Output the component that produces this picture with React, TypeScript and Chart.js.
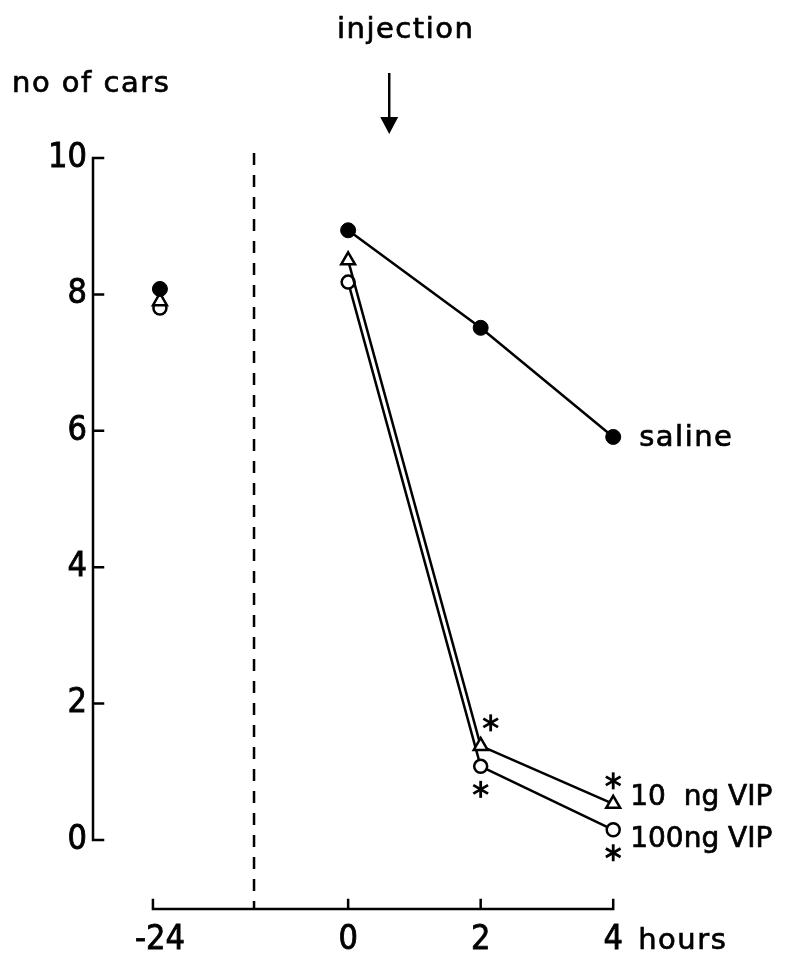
import React, { useEffect, useRef } from 'react';
import { Chart, registerables } from 'chart.js';

Chart.register(...registerables);

// ---- data ----
const hours = [-24, 0, 2, 4];
const xTickLabels = ['-24', '0', '2', '4'];
const yTickValues = [0, 2, 4, 6, 8, 10];
const saline = [8.08, 8.94, 7.51, 5.91];
const vip10 = [7.9, 8.5, 1.38, 0.53];
const vip100 = [7.8, 8.18, 1.08, 0.15];
const sig10 = [false, false, true, true];
const sig100 = [false, false, true, true];
const seriesLabels = ['saline', '10  ng VIP', '100ng VIP'];

// axis break: the -24 h baseline is drawn at a compressed axis position
const BREAK_POS = -2.84;
const BREAK_LINE = -1.42;
const INJECTION_AT = 0.62;
const toPos = (h: number) => (h < 0 ? BREAK_POS : h);

const NUM_FONT = '"Liberation Sans Narrow", "DejaVu Sans Condensed", "Liberation Sans", sans-serif';
const WORD_FONT = '"DejaVu Sans", sans-serif';

function asterisk(ctx: CanvasRenderingContext2D, x: number, y: number, r: number) {
  ctx.save();
  ctx.lineWidth = 2.8;
  ctx.strokeStyle = '#000';
  ctx.lineCap = 'butt';
  for (let k = 0; k < 3; k++) {
    const a = Math.PI / 2 + (k * Math.PI) / 3;
    ctx.beginPath();
    ctx.moveTo(x - r * Math.cos(a), y - r * Math.sin(a));
    ctx.lineTo(x + r * Math.cos(a), y + r * Math.sin(a));
    ctx.stroke();
  }
  ctx.restore();
}

function word(ctx: CanvasRenderingContext2D, t: string, x: number, y: number) {
  ctx.fillText(t, x, y);
  ctx.strokeText(t, x, y);
}

const decorPlugin = {
  id: 'decor',
  afterDraw(chart: any) {
    const ctx: CanvasRenderingContext2D = chart.ctx;
    const xs = chart.scales.x;
    const ys = chart.scales.y;
    const axisX = chart.chartArea.left;
    const axisY = ys.getPixelForValue(0) + 69;
    ctx.save();
    ctx.strokeStyle = '#000';
    ctx.fillStyle = '#000';
    ctx.lineWidth = 2.5;
    ctx.lineCap = 'square';

    // y axis with inward ticks
    ctx.beginPath();
    ctx.moveTo(axisX, ys.getPixelForValue(10));
    ctx.lineTo(axisX, ys.getPixelForValue(0));
    yTickValues.forEach((v) => {
      const py = ys.getPixelForValue(v);
      ctx.moveTo(axisX, py);
      ctx.lineTo(axisX + 10, py);
    });
    ctx.stroke();

    // x axis with upward ticks
    const leftEnd = xs.getPixelForValue(toPos(hours[0])) - 7;
    ctx.beginPath();
    ctx.moveTo(leftEnd, axisY);
    ctx.lineTo(xs.getPixelForValue(toPos(hours[hours.length - 1])), axisY);
    hours.forEach((h, i) => {
      const px = i === 0 ? leftEnd : xs.getPixelForValue(toPos(h));
      ctx.moveTo(px, axisY);
      ctx.lineTo(px, axisY - 9);
    });
    ctx.stroke();

    // dashed break line
    ctx.lineCap = 'butt';
    ctx.lineWidth = 2.5;
    ctx.setLineDash([12, 10]);
    ctx.beginPath();
    const bx = xs.getPixelForValue(BREAK_LINE);
    ctx.moveTo(bx, ys.getPixelForValue(10) - 5);
    ctx.lineTo(bx, axisY);
    ctx.stroke();
    ctx.setLineDash([]);

    // injection arrow
    const ax = xs.getPixelForValue(INJECTION_AT);
    ctx.beginPath();
    ctx.moveTo(ax, 73);
    ctx.lineTo(ax, 120);
    ctx.stroke();
    ctx.beginPath();
    ctx.moveTo(ax - 9, 117);
    ctx.lineTo(ax + 9, 117);
    ctx.lineTo(ax, 134);
    ctx.closePath();
    ctx.fill();

    // texts
    ctx.lineWidth = 0.7;
    (ctx as any).letterSpacing = '1.5px';
    ctx.font = `29px ${WORD_FONT}`;
    ctx.textAlign = 'left';
    ctx.textBaseline = 'alphabetic';
    word(ctx, 'no of cars', 12, 92);
    word(ctx, 'injection', 337, 38);
    const x4 = xs.getPixelForValue(4);
    word(ctx, 'hours', x4 + 25, 949);
    word(ctx, seriesLabels[0], x4 + 26, ys.getPixelForValue(saline[3]) + 9);
    (ctx as any).letterSpacing = '0px';
    ctx.font = `28px ${WORD_FONT}`;
    word(ctx, seriesLabels[1], x4 + 17, ys.getPixelForValue(vip10[3]) + 1);
    word(ctx, seriesLabels[2], x4 + 17, ys.getPixelForValue(vip100[3]) + 17);

    // significance asterisks
    hours.forEach((h, i) => {
      const px = xs.getPixelForValue(toPos(h));
      if (sig10[i]) {
        const dx = i === 2 ? 10 : 0;
        asterisk(ctx, px + dx, ys.getPixelForValue(vip10[i]) - 23, 8.5);
      }
      if (sig100[i]) {
        asterisk(ctx, px, ys.getPixelForValue(vip100[i]) + 23, 8.5);
      }
    });
    ctx.restore();
  },
};

export default function App() {
  const ref = useRef<HTMLCanvasElement | null>(null);
  useEffect(() => {
    if (!ref.current) return;
    const breakSegment = {
      borderColor: (c: any) => (c.p0.parsed.x < BREAK_LINE ? 'rgba(0,0,0,0)' : '#000'),
    };
    const mk = (vals: number[]) => hours.map((h, i) => ({ x: toPos(h), y: vals[i] }));
    const chart = new Chart(ref.current, {
      type: 'scatter',
      data: {
        datasets: [
          {
            label: seriesLabels[0],
            data: mk(saline),
            showLine: true,
            borderColor: '#000',
            borderWidth: 2.5,
            pointStyle: 'circle',
            pointRadius: 7.5,
            pointBackgroundColor: '#000',
            pointBorderColor: '#000',
            pointBorderWidth: 1,
            segment: breakSegment,
            clip: false,
          },
          {
            label: seriesLabels[1],
            data: mk(vip10),
            showLine: true,
            borderColor: '#000',
            borderWidth: 2.5,
            pointStyle: 'triangle',
            pointRadius: 8,
            pointBackgroundColor: '#fff',
            pointBorderColor: '#000',
            pointBorderWidth: 2.5,
            segment: breakSegment,
            clip: false,
          },
          {
            label: seriesLabels[2],
            data: mk(vip100),
            showLine: true,
            borderColor: '#000',
            borderWidth: 2.5,
            pointStyle: 'circle',
            pointRadius: 6.5,
            pointBackgroundColor: '#fff',
            pointBorderColor: '#000',
            pointBorderWidth: 2.5,
            segment: breakSegment,
            clip: false,
          },
        ],
      },
      options: {
        responsive: false,
        animation: false,
        layout: { padding: { left: 0, top: 158, right: 27, bottom: 0 } },
        plugins: { legend: { display: false }, tooltip: { enabled: false } },
        scales: {
          x: {
            type: 'linear',
            min: -3.85,
            max: 6.2,
            grid: { display: false, drawTicks: false },
            border: { display: false },
            afterBuildTicks: (s: any) => {
              s.ticks = hours.map((h) => ({ value: toPos(h) }));
            },
            afterFit: (s: any) => {
              s.height = 114;
            },
            ticks: {
              autoSkip: false,
              maxRotation: 0,
              padding: 80,
              color: '#000',
              textStrokeColor: '#000',
              textStrokeWidth: 0.8,
              font: { family: NUM_FONT, size: 34 },
              callback: (_v: any, i: number) => xTickLabels[i],
            },
          },
          y: {
            type: 'linear',
            min: 0,
            max: 10,
            grid: { display: false, drawTicks: false },
            border: { display: false },
            afterBuildTicks: (s: any) => {
              s.ticks = yTickValues.map((v) => ({ value: v }));
            },
            afterFit: (s: any) => {
              s.width = 93;
            },
            ticks: {
              padding: 6,
              color: '#000',
              textStrokeColor: '#000',
              textStrokeWidth: 0.8,
              font: { family: NUM_FONT, size: 34 },
            },
          },
        },
      },
      plugins: [decorPlugin],
    } as any);
    return () => chart.destroy();
  }, []);
  return (
    <div style={{ position: 'absolute', left: 0, top: 0, width: 786, height: 954, background: '#fff' }}>
      <canvas ref={ref} width={786} height={954} style={{ display: 'block' }} />
    </div>
  );
}
